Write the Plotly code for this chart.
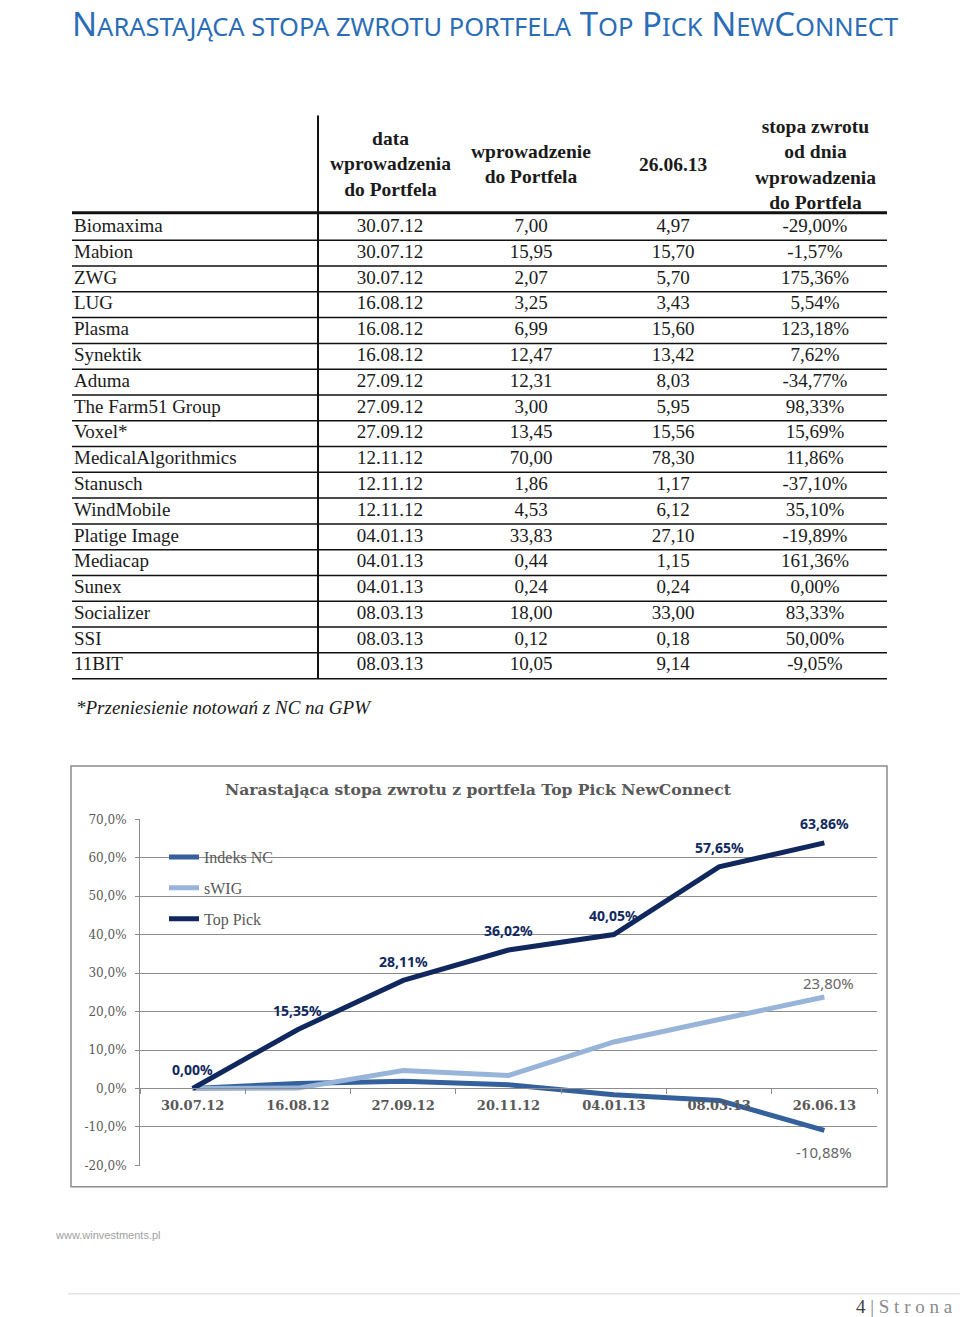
import plotly.graph_objects as go

W, H = 960, 1317
# the viewer shows the page with an 8px top offset and a vertical factor of ~0.988;
# reference pixel rows are mapped through this so that the picture lines up.
VOFF, VSCALE = 8.0, 0.988

# ---------------- data ----------------
companies = ["Biomaxima", "Mabion", "ZWG", "LUG", "Plasma", "Synektik", "Aduma",
             "The Farm51 Group", "Voxel*", "MedicalAlgorithmics", "Stanusch", "WindMobile",
             "Platige Image", "Mediacap", "Sunex", "Socializer", "SSI", "11BIT"]
entry_dates = ["30.07.12", "30.07.12", "30.07.12", "16.08.12", "16.08.12", "16.08.12",
               "27.09.12", "27.09.12", "27.09.12", "12.11.12", "12.11.12", "12.11.12",
               "04.01.13", "04.01.13", "04.01.13", "08.03.13", "08.03.13", "08.03.13"]
entry_prices = ["7,00", "15,95", "2,07", "3,25", "6,99", "12,47", "12,31", "3,00", "13,45",
                "70,00", "1,86", "4,53", "33,83", "0,44", "0,24", "18,00", "0,12", "10,05"]
prices_260613 = ["4,97", "15,70", "5,70", "3,43", "15,60", "13,42", "8,03", "5,95", "15,56",
                 "78,30", "1,17", "6,12", "27,10", "1,15", "0,24", "33,00", "0,18", "9,14"]
returns = ["-29,00%", "-1,57%", "175,36%", "5,54%", "123,18%", "7,62%", "-34,77%", "98,33%",
           "15,69%", "11,86%", "-37,10%", "35,10%", "-19,89%", "161,36%", "0,00%", "83,33%",
           "50,00%", "-9,05%"]
table_headers = ["data<br>wprowadzenia<br>do Portfela", "wprowadzenie<br>do Portfela",
                 "26.06.13", "stopa zwrotu<br>od dnia<br>wprowadzenia<br>do Portfela"]

chart_dates = ["30.07.12", "16.08.12", "27.09.12", "20.11.12", "04.01.13", "08.03.13", "26.06.13"]
indeks_nc = [0.0, 1.3, 1.9, 1.0, -1.6, -3.1, -10.88]
swig = [0.0, 0.1, 4.7, 3.4, 12.1, 17.9, 23.80]
top_pick = [0.00, 15.35, 28.11, 36.02, 40.05, 57.65, 63.86]
y_tick_vals = [-20, -10, 0, 10, 20, 30, 40, 50, 60, 70]
y_tick_text = ["-20,0%", "-10,0%", "0,0%", "10,0%", "20,0%", "30,0%", "40,0%", "50,0%", "60,0%", "70,0%"]

# ---------------- helpers ----------------
def X(px):
    return px / W

def P(py):
    return 1 - ((py - VOFF) / VSCALE) / H

def pct(v):
    return f"{v:.2f}".replace(".", ",") + "%"

GRAY = "#595959"
GRID = "#8c8c8c"
C_NC = "#34619b"
C_SWIG = "#98b4d8"
C_TOP = "#10285e"
TXT = "#1a1a1a"

fig = go.Figure()

# ---------------- chart ----------------
for name, vals, col in [("Indeks NC", indeks_nc, C_NC), ("sWIG", swig, C_SWIG), ("Top Pick", top_pick, C_TOP)]:
    fig.add_trace(go.Scatter(x=chart_dates, y=vals, mode="lines", name=name, legendgroup=name,
                             line=dict(color=col, width=5), xaxis="x", yaxis="y"))

annotations = []
for d, v in zip(chart_dates, top_pick):
    annotations.append(dict(x=d, y=v, xref="x", yref="y", text=pct(v), showarrow=False,
                            yshift=19, font=dict(family="Noto Sans", size=14, color=C_TOP, weight="bold")))
annotations.append(dict(x=chart_dates[-1], y=swig[-1], xref="x", yref="y", text=pct(swig[-1]),
                        showarrow=False, yshift=14, xshift=4,
                        font=dict(family="Noto Sans", size=15, color="#666666")))
annotations.append(dict(x=chart_dates[-1], y=indeks_nc[-1], xref="x", yref="y", text=pct(indeks_nc[-1]),
                        showarrow=False, yshift=-22,
                        font=dict(family="Noto Sans", size=15, color="#666666")))

annotations.append(dict(x=X(478), y=P(789), xref="paper", yref="paper", showarrow=False,
                        text="Narastająca stopa zwrotu z portfela Top Pick NewConnect",
                        font=dict(family="DejaVu Serif", size=15.6, color=GRAY, weight="bold")))

# ---------------- table ----------------
col_x = [74, 390, 531, 673, 815]
rows = list(range(len(companies)))
fig.add_trace(go.Scatter(x=[col_x[0]] * len(rows), y=rows, text=companies, mode="text",
                         textposition="middle right", xaxis="x2", yaxis="y2", showlegend=False,
                         textfont=dict(family="Liberation Serif", size=19, color=TXT), hoverinfo="skip"))
for cx, colvals in zip(col_x[1:], [entry_dates, entry_prices, prices_260613, returns]):
    fig.add_trace(go.Scatter(x=[cx] * len(rows), y=rows, text=colvals, mode="text",
                             textposition="middle center", xaxis="x2", yaxis="y2", showlegend=False,
                             textfont=dict(family="Liberation Serif", size=19, color=TXT), hoverinfo="skip"))
for cx, htxt in zip(col_x[1:], table_headers):
    annotations.append(dict(x=cx, y=-2.45, xref="x2", yref="y2", text=htxt, showarrow=False,
                            font=dict(family="Liberation Serif", size=19.5, color=TXT, weight="bold")))

shapes = []
for i in rows:
    shapes.append(dict(type="line", xref="x2", yref="y2", x0=72, x1=887, y0=i + 0.5, y1=i + 0.5,
                       line=dict(color="#111111", width=1.5)))
shapes.append(dict(type="line", xref="x2", yref="y2", x0=72, x1=887, y0=-0.57, y1=-0.57,
                   line=dict(color="#111111", width=3)))
shapes.append(dict(type="line", xref="x2", yref="y2", x0=318, x1=318, y0=-4.35, y1=len(rows) - 0.5,
                   line=dict(color="#111111", width=2)))

# chart frame
shapes.append(dict(type="rect", xref="paper", yref="paper", x0=X(71), x1=X(887), y0=P(766), y1=P(1186),
                   line=dict(color="#8c8c8c", width=1.5), layer="below"))
# footer line
shapes.append(dict(type="line", xref="paper", yref="paper", x0=X(68), x1=X(960), y0=P(1293), y1=P(1293),
                   line=dict(color="#e3e3e3", width=1.5)))

# title (small caps)
sc = lambda s: f'<span style="font-size:25.5px">{s}</span>'
title = ("N" + sc("ARASTAJĄCA STOPA ZWROTU PORTFELA") + " T" + sc("OP") + " P" + sc("ICK")
         + " N" + sc("EW") + "C" + sc("ONNECT"))
annotations.append(dict(x=X(70), y=P(24), xref="paper", yref="paper", xanchor="left", yanchor="middle",
                        showarrow=False, text=title,
                        font=dict(family="Noto Sans", size=33, color="#2a6db6")))

annotations.append(dict(x=X(74), y=P(708), xref="paper", yref="paper", xanchor="left", yanchor="middle",
                        showarrow=False, text="<i>*Przeniesienie notowań z NC na GPW</i>",
                        font=dict(family="Liberation Serif", size=19, color=TXT)))

annotations.append(dict(x=X(53), y=P(1234), xref="paper", yref="paper", xanchor="left", yanchor="middle",
                        showarrow=False, text="www.winvestments.pl",
                        font=dict(family="Liberation Sans", size=11, color="#a0a0a0")))
annotations.append(dict(x=X(955), y=P(1306), xref="paper", yref="paper", xanchor="right", yanchor="middle",
                        showarrow=False,
                        text='<span style="color:#404040">4</span> | S t r o n a',
                        font=dict(family="Liberation Serif", size=19, color="#8a8a8a")))

fig.update_layout(
    width=W, height=H, margin=dict(l=0, r=0, t=0, b=0),
    paper_bgcolor="white", plot_bgcolor="rgba(0,0,0,0)",
    showlegend=True,
    legend=dict(x=X(164), y=P(840), xanchor="left", yanchor="top", bgcolor="rgba(0,0,0,0)",
                font=dict(family="Liberation Serif", size=16, color=GRAY), tracegroupgap=7),
    xaxis=dict(domain=[X(140), X(877)], type="category", anchor="free", position=P(1088),
               range=[-0.5, 6.5], showline=True, linecolor=GRID, linewidth=1, ticks="outside",
               tickson="boundaries", ticklen=5, tickcolor=GRID, showgrid=False, ticklabelstandoff=5,
               tickfont=dict(family="DejaVu Serif", size=13, color=GRAY, weight="bold")),
    yaxis=dict(domain=[P(1165), P(819)], range=[-20.05, 70.05], tickvals=y_tick_vals, ticktext=y_tick_text,
               showgrid=True, gridcolor=GRID, gridwidth=1, zeroline=False, showline=True, linecolor=GRID,
               ticks="outside", ticklen=4, tickcolor=GRID, ticklabelstandoff=6,
               tickfont=dict(family="DejaVu Serif", size=12, color=GRAY)),
    xaxis2=dict(domain=[0, 1], range=[0, W], visible=False, anchor="y2"),
    yaxis2=dict(domain=[P(680), P(116)], range=[17.55, -4.35], visible=False, anchor="x2"),
    annotations=annotations, shapes=shapes,
)

fig.write_html("out.html", config={"displayModeBar": False},
               post_script="document.body.style.margin='0';document.body.style.overflow='hidden';")
